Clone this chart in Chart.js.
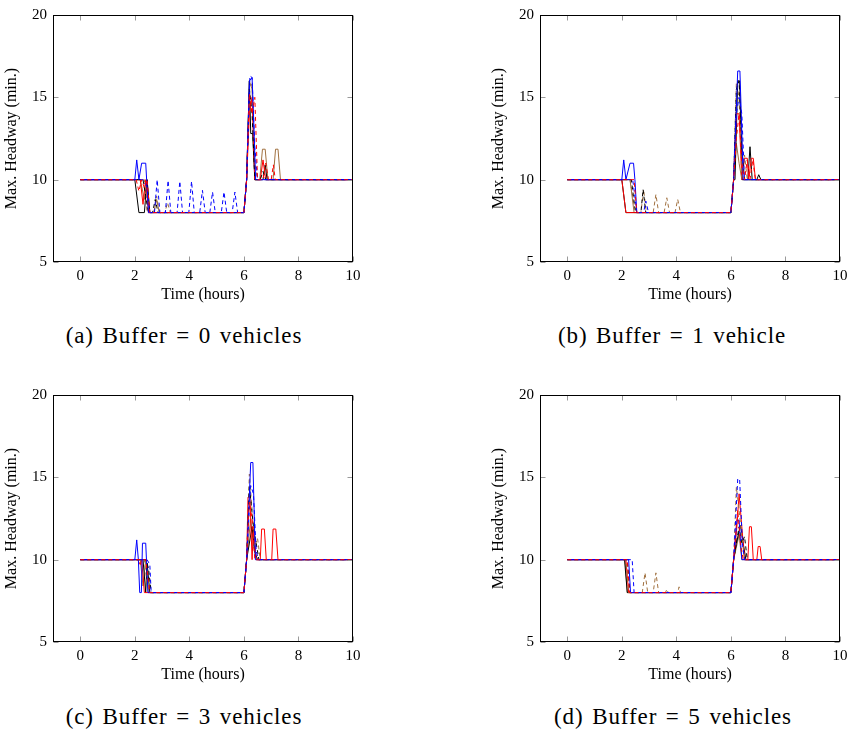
<!DOCTYPE html>
<html>
<head>
<meta charset="utf-8">
<script src="https://cdn.jsdelivr.net/npm/chart.js@4.4.1/dist/chart.umd.min.js"></script>
<style>
  body { margin: 0; background: #fff; width: 848px; height: 731px; position: relative; overflow: hidden; font-family: "Liberation Serif", serif; }
  .panel { position: absolute; width: 370px; height: 310px; }
  .cap { position: absolute; font-size: 23px; letter-spacing: 0.9px; word-spacing: 2px; transform: translateX(-50%); white-space: nowrap; color: #000; }
</style>
</head>
<body>
<div class="panel" style="left:0;top:0"><canvas id="ca" width="370" height="310"></canvas></div>
<div class="panel" style="left:487px;top:0"><canvas id="cb" width="370" height="310"></canvas></div>
<div class="panel" style="left:0;top:380px"><canvas id="cc" width="370" height="310"></canvas></div>
<div class="panel" style="left:487px;top:380px"><canvas id="cd" width="370" height="310"></canvas></div>
<div class="cap" id="capA" style="left:184px;top:323px"></div>
<div class="cap" id="capB" style="left:672px;top:323px"></div>
<div class="cap" id="capC" style="left:184px;top:704px"></div>
<div class="cap" id="capD" style="left:673px;top:704px"></div>
<script>
// axis ticks and captions
const xTicks = [0, 2, 4, 6, 8, 10];
const yTicks = [5, 10, 15, 20];
const captions = ["(a) Buffer = 0 vehicles", "(b) Buffer = 1 vehicle", "(c) Buffer = 3 vehicles", "(d) Buffer = 5 vehicles"];

// (a) buffer = 0 : [time (h), max headway (min)]
const aRedD = [[0,10],[2.05,10],[2.15,9.3],[2.25,10],[2.35,9.5],[2.45,10],[2.55,8],[6.0,8],[6.1,10],[6.2,15.2],[6.3,14],[6.4,15],[6.5,10],[6.7,10],[6.8,11],[6.9,10],[7.0,10],[7.08,10.9],[7.15,10],[10,10]];
const aBluD = [[0,10],[2.3,10],[2.45,9.5],[2.55,8],[2.72,8],[2.82,10],[2.92,8],[3.12,8],[3.22,9.95],[3.32,8],[3.55,8],[3.65,9.9],[3.75,8],[3.98,8],[4.08,9.9],[4.18,8],[4.38,8],[4.48,9.35],[4.58,8],[4.75,8],[4.85,9.25],[4.95,8],[5.17,8],[5.27,9.25],[5.37,8],[5.57,8],[5.67,9.25],[5.77,8],[6.0,8],[6.1,10],[6.22,16.3],[6.3,16.2],[6.4,12],[6.5,10],[10,10]];
const aBlkD = [[0,10],[2.3,10],[2.4,9],[2.5,8],[2.65,8],[2.75,8.8],[2.85,8],[6.0,8],[6.1,10],[6.2,15.5],[6.3,14],[6.4,10],[6.6,10],[6.7,10.5],[6.8,10],[10,10]];
const aBrnD = [[0,10],[2.35,10],[2.45,8],[2.7,8],[2.8,9.0],[2.9,8],[3.1,8],[3.2,8.6],[3.3,8],[6.0,8],[6.1,10],[6.2,15.6],[6.3,15.8],[6.4,11],[6.5,10],[10,10]];
const aBluS = [[0,10],[2.0,10],[2.07,11.2],[2.15,10],[2.25,11],[2.4,11],[2.5,8],[6.0,8],[6.1,10],[6.2,16],[6.3,16.2],[6.35,14],[6.43,10],[10,10]];
const aRedS = [[0,10],[2.2,10],[2.3,8.5],[2.4,10],[2.5,8],[6.0,8],[6.1,10],[6.2,14],[6.3,15],[6.4,10],[6.6,10],[6.7,11.2],[6.8,10],[10,10]];
const aBlkS = [[0,10],[2.0,10],[2.15,8],[2.35,8],[2.45,10],[2.55,8],[6.0,8],[6.1,10],[6.2,16],[6.25,12.8],[6.32,12.8],[6.4,10],[6.7,10],[6.78,10.9],[6.85,10],[10,10]];
const aBrnS = [[0,10],[2.2,10],[2.35,8.8],[2.45,10],[2.55,8],[2.7,8],[2.8,8.8],[2.9,8],[6.0,8],[6.1,10],[6.2,16],[6.3,15.5],[6.4,10],[6.58,10],[6.68,11.85],[6.78,11.85],[6.88,10],[7.07,10],[7.16,11.85],[7.25,11.85],[7.34,10],[10,10]];

// (b) buffer = 1
const bRedD = [[0,10],[2.45,10],[2.55,8],[6.0,8],[6.1,10],[6.2,12.5],[6.3,14],[6.4,11],[6.5,10],[6.6,11.2],[6.7,10],[6.8,11.2],[6.9,10],[10,10]];
const bBluD = [[0,10],[2.4,10],[2.55,8],[2.8,8],[2.88,8.7],[2.98,8],[6.0,8],[6.1,10],[6.2,14],[6.3,15],[6.4,14],[6.5,10],[10,10]];
const bBlkD = [[0,10],[2.35,10],[2.5,8],[2.7,8],[2.78,9.4],[2.88,8],[6.0,8],[6.1,10],[6.2,15.5],[6.3,16],[6.4,12],[6.5,10],[10,10]];
const bBrnD = [[0,10],[2.3,10],[2.45,8.5],[2.55,8],[2.7,8],[2.8,9.4],[2.9,8],[3.15,8],[3.25,9.1],[3.35,8],[3.55,8],[3.65,8.9],[3.75,8],[3.95,8],[4.05,8.8],[4.15,8],[6.0,8],[6.1,10],[6.2,15.9],[6.3,15],[6.4,10],[6.5,11.5],[6.6,10],[10,10]];
const bBluS = [[0,10],[2.0,10],[2.07,11.2],[2.15,10],[2.3,11],[2.43,11],[2.48,10],[2.55,8],[6.0,8],[6.1,10],[6.25,16.6],[6.33,16.6],[6.38,14],[6.45,10],[10,10]];
const bRedS = [[0,10],[2.0,10],[2.15,8],[6.0,8],[6.1,10],[6.2,14],[6.3,14],[6.4,10],[6.5,11.3],[6.6,11.3],[6.65,10],[6.75,11.3],[6.82,11.3],[6.9,10],[10,10]];
const bBlkS = [[0,10],[2.0,10],[2.15,8],[6.0,8],[6.1,10],[6.15,10],[6.25,16],[6.32,16],[6.42,10],[6.62,10],[6.7,12],[6.78,10],[6.95,10],[7.02,10.3],[7.1,10],[10,10]];
const bBrnS = [[0,10],[2.3,10],[2.45,8],[6.0,8],[6.1,10],[6.2,12.2],[6.3,11],[6.4,10],[10,10]];

// (c) buffer = 3
const cRedD = [[0,10],[2.4,10],[2.55,8],[6.0,8],[6.1,10],[6.2,13.5],[6.3,12.5],[6.4,10],[10,10]];
const cBluD = [[0,10],[2.45,10],[2.55,9.7],[2.6,8],[6.0,8],[6.1,10],[6.25,14.5],[6.35,14],[6.45,10.5],[6.55,10],[10,10]];
const cBlkD = [[0,10],[2.4,10],[2.5,9.5],[2.6,8],[6.0,8],[6.1,10],[6.2,14.5],[6.35,12],[6.45,11],[6.55,10],[10,10]];
const cBrnD = [[0,10],[2.35,10],[2.45,8.5],[2.55,8],[6.0,8],[6.1,10],[6.2,15.2],[6.3,13],[6.4,10.8],[6.5,11.3],[6.6,10],[10,10]];
const cBluS = [[0,10],[2.0,10],[2.07,11.2],[2.13,10],[2.18,8],[2.24,8],[2.28,11],[2.4,11],[2.48,8],[6.0,8],[6.1,10],[6.25,15.9],[6.33,15.9],[6.42,10],[10,10]];
const cRedS = [[0,10],[2.1,10],[2.2,9.7],[2.25,10],[2.35,8],[6.0,8],[6.1,10],[6.15,13.8],[6.22,13.8],[6.3,10],[6.35,12],[6.45,10],[6.6,10],[6.65,11.86],[6.75,11.86],[6.82,10],[7.02,10],[7.07,11.86],[7.17,11.86],[7.25,10],[10,10]];
const cBlkS = [[0,10],[2.3,10],[2.4,8],[2.45,9.8],[2.55,8],[6.0,8],[6.1,10],[6.3,12],[6.4,10.5],[6.5,10],[10,10]];
const cBrnS = [[0,10],[2.2,10],[2.3,8.4],[2.4,10],[2.5,8],[6.0,8],[6.1,10],[6.25,12.5],[6.35,10.8],[6.45,10],[10,10]];

// (d) buffer = 5
const dRedD = [[0,10],[2.2,10],[2.28,8],[6.0,8],[6.1,10],[6.25,13],[6.35,11],[6.45,10],[10,10]];
const dBluD = [[0,10],[2.38,10],[2.45,8],[6.0,8],[6.1,10],[6.25,14.9],[6.32,14.9],[6.42,11],[6.5,10],[10,10]];
const dBlkD = [[0,10],[2.2,10],[2.3,8],[6.0,8],[6.1,10],[6.3,12],[6.4,11],[6.5,11.4],[6.6,10],[10,10]];
const dBrnD = [[0,10],[2.15,10],[2.25,8],[2.75,8],[2.85,9.2],[2.95,8],[3.15,8],[3.25,9.2],[3.35,8],[3.6,8],[3.65,8.2],[3.7,8],[4.05,8],[4.1,8.35],[4.15,8],[6.0,8],[6.1,10],[6.2,14.4],[6.3,13],[6.4,11.4],[6.5,10],[10,10]];
const dBluS = [[0,10],[2.25,10],[2.32,8],[6.0,8],[6.1,10],[6.22,12.4],[6.3,12.4],[6.4,10],[10,10]];
const dRedS = [[0,10],[2.15,10],[2.25,8],[6.0,8],[6.1,10],[6.22,12],[6.3,14],[6.4,12],[6.5,10],[6.62,10],[6.68,12],[6.75,12],[6.82,10],[6.95,10],[7.0,10.8],[7.07,10.8],[7.13,10],[10,10]];
const dBlkS = [[0,10],[2.1,10],[2.2,8],[6.0,8],[6.1,10],[6.2,11],[6.35,12.1],[6.45,11],[6.55,10],[10,10]];
const dBrnS = [[0,10],[2.12,10],[2.2,8],[6.0,8],[6.1,10],[6.3,11.5],[6.4,10],[10,10]];

// order of the arrays passed to makeChart; first entry is drawn on top
const lineStyles = [
  { color: "#ff0000", dash: [4, 3], offset: 0 },   // red dashed
  { color: "#0000ff", dash: [4, 3], offset: 3.5 }, // blue dashed
  { color: "#0000ff", dash: [], offset: 0 },       // blue solid
  { color: "#000000", dash: [4, 3], offset: 0 },   // black dashed
  { color: "#a0703f", dash: [4, 3], offset: 0 },   // brown dashed
  { color: "#ff0000", dash: [], offset: 0 },       // red solid
  { color: "#000000", dash: [], offset: 0 },       // black solid
  { color: "#a0703f", dash: [], offset: 0 }        // brown solid
];

const serif = "'Liberation Serif', 'Times New Roman', serif";

// inward ticks on all four sides plus the black frame
const frame = {
  id: "frame",
  afterDraw(chart) {
    const { ctx, chartArea: a, scales: { x, y } } = chart;
    const L = Math.round(a.left) + 0.5, R = Math.round(a.right) - 0.5;
    const T = Math.round(a.top) + 0.5, B = Math.round(a.bottom) - 0.5;
    ctx.save();
    ctx.lineWidth = 1;
    ctx.strokeStyle = "#9a9a9a";
    ctx.beginPath();
    xTicks.forEach(v => {
      const px = Math.round(x.getPixelForValue(v)) + 0.5;
      ctx.moveTo(px, B); ctx.lineTo(px, B - 5);
      ctx.moveTo(px, T); ctx.lineTo(px, T + 5);
    });
    yTicks.forEach(v => {
      const py = Math.round(y.getPixelForValue(v)) + 0.5;
      ctx.moveTo(L, py); ctx.lineTo(L + 5, py);
      ctx.moveTo(R, py); ctx.lineTo(R - 5, py);
    });
    ctx.stroke();
    ctx.strokeStyle = "#000";
    ctx.strokeRect(L, T, R - L, B - T);
    ctx.restore();
  }
};

function makeChart(id, series) {
  new Chart(document.getElementById(id), {
    type: "line",
    data: {
      datasets: series.map((pts, i) => ({
        data: pts.map(([x, y]) => ({ x: x, y: y })),
        borderColor: lineStyles[i].color,
        borderDash: lineStyles[i].dash,
        borderDashOffset: lineStyles[i].offset,
        borderWidth: 1,
        pointRadius: 0,
        tension: 0,
        fill: false
      }))
    },
    options: {
      responsive: false,
      animation: false,
      events: [],
      layout: { padding: { top: 13, right: 17, left: 0, bottom: 0 } },
      plugins: { legend: { display: false }, tooltip: { enabled: false } },
      scales: {
        x: {
          type: "linear", min: -1, max: 10,
          afterBuildTicks: s => { s.ticks = xTicks.map(v => ({ value: v })); },
          afterFit: s => { s.height = 48; },
          grid: { display: false, drawTicks: false },
          border: { display: false },
          ticks: { color: "#000", padding: 5, maxRotation: 0, font: { family: serif, size: 15 } },
          title: { display: true, text: "Time (hours)", color: "#000", padding: { top: 6, bottom: 6 }, font: { family: serif, size: 16 } }
        },
        y: {
          min: 5, max: 20,
          afterBuildTicks: s => { s.ticks = yTicks.map(v => ({ value: v })); },
          afterFit: s => { s.width = 53; },
          grid: { display: false, drawTicks: false },
          border: { display: false },
          ticks: { color: "#000", padding: 6, font: { family: serif, size: 15 } },
          title: { display: true, text: "Max. Headway (min.)", color: "#000", padding: { top: 2, bottom: 2 }, font: { family: serif, size: 16 } }
        }
      }
    },
    plugins: [frame]
  });
}

makeChart("ca", [aRedD, aBluD, aBluS, aBlkD, aBrnD, aRedS, aBlkS, aBrnS]);
makeChart("cb", [bRedD, bBluD, bBluS, bBlkD, bBrnD, bRedS, bBlkS, bBrnS]);
makeChart("cc", [cRedD, cBluD, cBluS, cBlkD, cBrnD, cRedS, cBlkS, cBrnS]);
makeChart("cd", [dRedD, dBluD, dBluS, dBlkD, dBrnD, dRedS, dBlkS, dBrnS]);

document.getElementById("capA").textContent = captions[0];
document.getElementById("capB").textContent = captions[1];
document.getElementById("capC").textContent = captions[2];
document.getElementById("capD").textContent = captions[3];
</script>
</body>
</html>
